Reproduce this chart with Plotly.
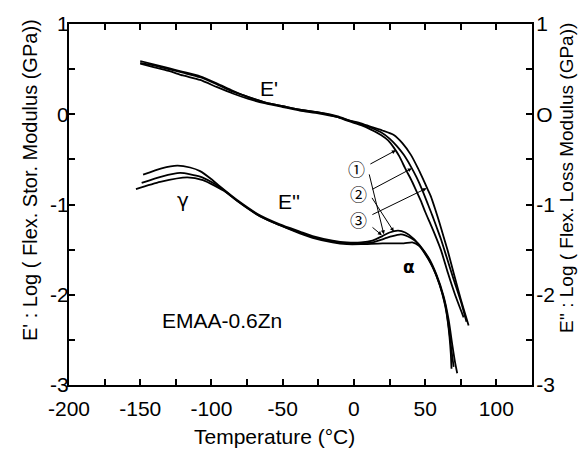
import plotly.graph_objects as go

# ---- data ----
# E' (storage modulus), three samples
e1_T = [-150,-140,-130,-120,-108,-96,-85,-74,-62,-50,-38,-25,-12,-3,5,12,19,24,28,32,36,40,43,47,50,53,56,61,66,71,77]
e1_y = [0.57,0.54,0.50,0.46,0.41,0.33,0.25,0.19,0.13,0.09,0.05,0.02,-0.03,-0.08,-0.12,-0.17,-0.23,-0.29,-0.37,-0.47,-0.60,-0.72,-0.82,-0.96,-1.08,-1.19,-1.30,-1.50,-1.76,-2.00,-2.25]
e2_T = [-150,-140,-130,-120,-108,-96,-85,-74,-62,-50,-38,-25,-12,-3,5,12,19,25,30,35,40,44,48,52,55,58,61,65,70,75,79]
e2_y = [0.59,0.55,0.51,0.47,0.42,0.34,0.26,0.19,0.13,0.09,0.05,0.02,-0.02,-0.07,-0.11,-0.15,-0.20,-0.27,-0.35,-0.45,-0.58,-0.70,-0.84,-1.00,-1.12,-1.25,-1.38,-1.58,-1.83,-2.07,-2.30]
e3_T = [-150,-140,-130,-120,-108,-96,-85,-74,-62,-50,-38,-25,-12,-3,5,12,20,28,34,40,45,48,52,54,57,60,63,66,70,75,80.5]
e3_y = [0.56,0.52,0.48,0.43,0.38,0.30,0.23,0.17,0.12,0.08,0.04,0.01,-0.03,-0.07,-0.10,-0.14,-0.18,-0.23,-0.32,-0.45,-0.60,-0.70,-0.84,-0.91,-1.05,-1.20,-1.36,-1.52,-1.76,-2.05,-2.34]

# E'' (loss modulus), three samples
l1_T = [-148,-135,-124,-115,-108,-100,-94,-82,-66,-52,-38,-29,-15,-5,5,13,20,25,31,36,42,47,52,56,60,63,65,67,68,68.5]
l1_y = [-0.67,-0.60,-0.57,-0.59,-0.63,-0.72,-0.80,-0.95,-1.12,-1.22,-1.30,-1.35,-1.40,-1.42,-1.42,-1.40,-1.35,-1.31,-1.29,-1.31,-1.38,-1.48,-1.60,-1.72,-1.88,-2.05,-2.20,-2.45,-2.65,-2.82]
l2_T = [-149,-135,-122,-108,-100,-94,-82,-66,-52,-38,-29,-15,-5,5,13,25,33,40,45,50,55,60,64,66.5,68.5,70]
l2_y = [-0.76,-0.69,-0.65,-0.69,-0.75,-0.81,-0.96,-1.13,-1.23,-1.31,-1.36,-1.41,-1.43,-1.43,-1.42,-1.36,-1.33,-1.37,-1.43,-1.54,-1.68,-1.88,-2.10,-2.35,-2.62,-2.80]
l3_T = [-153,-136,-117,-106,-90,-82,-66,-52,-38,-29,-15,-5,5,20,35,41,46,52,58,63,66.5,69,71,72.5]
l3_y = [-0.83,-0.75,-0.70,-0.73,-0.86,-0.96,-1.13,-1.23,-1.32,-1.37,-1.42,-1.44,-1.44,-1.43,-1.43,-1.42,-1.46,-1.58,-1.78,-2.02,-2.28,-2.55,-2.75,-2.87]

x_ticks = [-200,-175,-150,-125,-100,-75,-50,-25,0,25,50,75,100,125]
x_labels = ["-200","","-150","","-100","","-50","","0","","50","","100",""]
y_ticks = [1,0.5,0,-0.5,-1,-1.5,-2,-2.5,-3]
y_labels = ["1","","0","","-1","","-2","","-3"]
y2_labels = ["1","","O","","-1","","-2","","-3"]

FONT = "Liberation Sans"
fig = go.Figure()
line = dict(color="black", width=1.8, shape="spline", smoothing=0.6)
for T, y in [(e1_T, e1_y), (e2_T, e2_y), (e3_T, e3_y)]:
    fig.add_trace(go.Scatter(x=T, y=y, mode="lines", line=line, yaxis="y", showlegend=False))
for T, y in [(l1_T, l1_y), (l2_T, l2_y), (l3_T, l3_y)]:
    fig.add_trace(go.Scatter(x=T, y=y, mode="lines", line=line, yaxis="y2", showlegend=False))

axis_common = dict(showgrid=False, zeroline=False, showline=True, linecolor="black", linewidth=2,
                   ticks="inside", ticklen=6, tickwidth=1.5, tickcolor="black",
                   tickfont=dict(family=FONT, size=21, color="black"))
fig.update_layout(
    width=587, height=451,
    margin=dict(l=69, r=55, t=24, b=66),
    paper_bgcolor="white", plot_bgcolor="white",
    xaxis=dict(range=[-200,125], tickvals=x_ticks, ticktext=x_labels, mirror="ticks",
               ticklabelstandoff=4, **axis_common),
    yaxis=dict(range=[-3,1], tickvals=y_ticks, ticktext=y_labels, mirror="ticks",
               ticklabelstandoff=-6, **axis_common),
    yaxis2=dict(range=[-3,1], tickvals=y_ticks, ticktext=y2_labels, overlaying="y", side="right",
                ticklabelstandoff=-2, **axis_common),
)

txt = dict(family=FONT, size=21, color="black")
circ = dict(family="Noto Sans CJK JP", size=17, color="black")
ann = [
    dict(x=-59.4, y=0.29, text="E'", font=txt),
    dict(x=-45.5, y=-0.97, text="E''", font=txt),
    dict(x=-120, y=-0.95, text="γ", font=dict(family="DejaVu Sans", size=20, color="black")),
    dict(x=38.5, y=-1.69, text="<b>α</b>", font=dict(family="DejaVu Sans", size=17, color="black")),
    dict(x=-92.3, y=-2.28, text="EMAA-0.6Zn", font=txt),
    dict(x=2.1, y=-0.60, text="①", font=circ),
    dict(x=3.5, y=-0.88, text="②", font=circ),
    dict(x=3.5, y=-1.17, text="③", font=circ),
]
for a in ann:
    a.update(xref="x", yref="y", showarrow=False, xanchor="center", yanchor="middle")
    fig.add_annotation(**a)

# leader lines from circled numbers to curves
leaders = [
    (10.5, -0.56, 29.4, -0.40), (11.9, -0.84, 40.6, -0.60), (11.9, -1.12, 51.0, -0.82),
    (10.5, -0.65, 21.0, -1.33), (12.0, -0.91, 28.0, -1.30), (12.0, -1.24, 19.6, -1.34),
]
for x0, y0, x1, y1 in leaders:
    fig.add_annotation(x=x1, y=y1, ax=x0, ay=y0, xref="x", yref="y", axref="x", ayref="y",
                       showarrow=True, arrowhead=2, arrowsize=0.8, arrowwidth=1, arrowcolor="black", text="")

# axis titles positioned in pixels via paper coords
pl, pr, pt, pb = 69, 532, 24, 385
def px(xp): return (xp - pl) / (pr - pl)
def py(yp): return (pb - yp) / (pb - pt)
fig.add_annotation(x=px(274), y=py(436), xref="paper", yref="paper", text="Temperature (°C)",
                   showarrow=False, font=txt, xanchor="center", yanchor="middle")
fig.add_annotation(x=px(30), y=py(180), xref="paper", yref="paper", text="E' : Log ( Flex. Stor. Modulus (GPa))",
                   textangle=-90, showarrow=False, font=dict(family=FONT, size=20, color="black"),
                   xanchor="center", yanchor="middle")
fig.add_annotation(x=px(566), y=py(178), xref="paper", yref="paper", text="E'' : Log ( Flex. Loss Modulus (GPa))",
                   textangle=-90, showarrow=False, font=dict(family=FONT, size=19, color="black"),
                   xanchor="center", yanchor="middle")

fig.write_html("out.html")
